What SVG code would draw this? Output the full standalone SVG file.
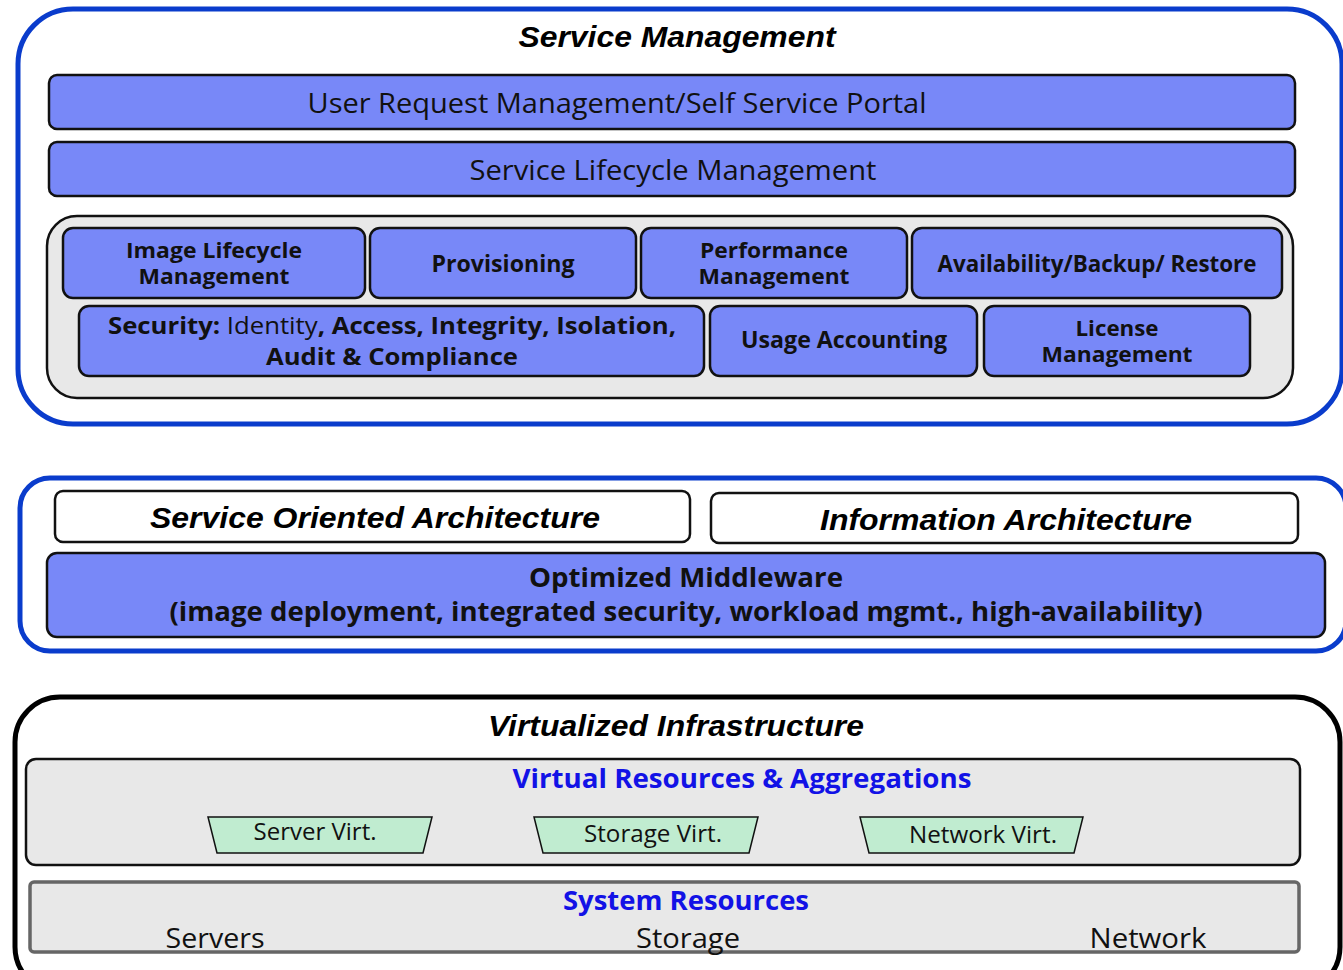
<svg xmlns="http://www.w3.org/2000/svg" width="1343" height="970" viewBox="0 0 1343 970">
<style>
.title{font-family:"Liberation Sans",Arial,sans-serif;font-weight:bold;font-style:italic;fill:#000;text-anchor:middle}
.hum{font-family:"Open Sans","Noto Sans",sans-serif;fill:#111;text-anchor:middle}
.b{font-weight:bold}
.bar{fill:#7888f8;stroke:#111;stroke-width:2.5}
.cont{fill:#e8e8e8;stroke:#111;stroke-width:2.5}
.outerB{fill:#fff;stroke:#0a3ccc;stroke-width:5}
.wbox{fill:#fff;stroke:#111;stroke-width:2.5}
.trap{fill:#c0ecd0;stroke:#111;stroke-width:1.5}
.blue{fill:#1212e6;font-weight:bold}
.two{font-size:21px}
</style>
<rect width="1343" height="970" fill="#fff"/>
<g id="service-management">
  <rect class="outerB" x="18" y="9" width="1324" height="415" rx="55"/>
  <text class="title" x="677" y="47" font-size="29" textLength="317" lengthAdjust="spacingAndGlyphs">Service Management</text>
</g>
<g id="user-request">
  <rect class="bar" x="49" y="75" width="1246" height="54" rx="8"/>
  <text class="hum" x="617" y="113" font-size="28" textLength="619" lengthAdjust="spacingAndGlyphs">User Request Management/Self Service Portal</text>
</g>
<g id="service-lifecycle">
  <rect class="bar" x="49" y="142" width="1246" height="54" rx="8"/>
  <text class="hum" x="673" y="180" font-size="28" textLength="407" lengthAdjust="spacingAndGlyphs">Service Lifecycle Management</text>
</g>
<g id="sm-container">
  <rect class="cont" x="47" y="216" width="1246" height="182" rx="30"/>
</g>
<g id="image-lifecycle">
  <rect class="bar" x="63" y="228" width="302" height="70" rx="10"/>
  <text class="hum b two" x="214" y="258" textLength="176" lengthAdjust="spacingAndGlyphs">Image Lifecycle</text>
  <text class="hum b two" x="214" y="284" textLength="151" lengthAdjust="spacingAndGlyphs">Management</text>
</g>
<g id="provisioning">
  <rect class="bar" x="370" y="228" width="266" height="70" rx="10"/>
  <text class="hum b" x="503" y="272" font-size="23" textLength="143" lengthAdjust="spacingAndGlyphs">Provisioning</text>
</g>
<g id="performance">
  <rect class="bar" x="641" y="228" width="266" height="70" rx="10"/>
  <text class="hum b two" x="774" y="258" textLength="148" lengthAdjust="spacingAndGlyphs">Performance</text>
  <text class="hum b two" x="774" y="284" textLength="151" lengthAdjust="spacingAndGlyphs">Management</text>
</g>
<g id="availability">
  <rect class="bar" x="912" y="228" width="370" height="70" rx="10"/>
  <text class="hum b" x="1097" y="272" font-size="23" textLength="319" lengthAdjust="spacingAndGlyphs">Availability/Backup/ Restore</text>
</g>
<g id="security">
  <rect class="bar" x="79" y="306" width="625" height="70" rx="10"/>
  <text class="hum b" x="392" y="334" font-size="23" textLength="568" lengthAdjust="spacingAndGlyphs">Security: <tspan font-weight="normal">Identity</tspan>, Access, Integrity, Isolation,</text>
  <text class="hum b" x="392" y="365" font-size="23" textLength="252" lengthAdjust="spacingAndGlyphs">Audit &amp; Compliance</text>
</g>
<g id="usage-accounting">
  <rect class="bar" x="710" y="306" width="267" height="70" rx="10"/>
  <text class="hum b" x="844" y="348" font-size="23" textLength="206" lengthAdjust="spacingAndGlyphs">Usage Accounting</text>
</g>
<g id="license">
  <rect class="bar" x="984" y="306" width="266" height="70" rx="10"/>
  <text class="hum b two" x="1117" y="336" textLength="83" lengthAdjust="spacingAndGlyphs">License</text>
  <text class="hum b two" x="1117" y="362" textLength="151" lengthAdjust="spacingAndGlyphs">Management</text>
</g>
<g id="middle-layer">
  <rect class="outerB" x="20" y="478" width="1326" height="173" rx="30"/>
</g>
<g id="soa">
  <rect class="wbox" x="55" y="491" width="635" height="51" rx="8"/>
  <text class="title" x="375" y="528" font-size="29" textLength="450" lengthAdjust="spacingAndGlyphs">Service Oriented Architecture</text>
</g>
<g id="info-arch">
  <rect class="wbox" x="711" y="493" width="587" height="50" rx="8"/>
  <text class="title" x="1006" y="530" font-size="29" textLength="372" lengthAdjust="spacingAndGlyphs">Information Architecture</text>
</g>
<g id="middleware">
  <rect class="bar" x="47" y="553" width="1278" height="84" rx="10"/>
  <text class="hum b" x="686" y="587" font-size="27" textLength="314" lengthAdjust="spacingAndGlyphs">Optimized Middleware</text>
  <text class="hum b" x="686" y="621" font-size="27" textLength="1033" lengthAdjust="spacingAndGlyphs">(image deployment, integrated security, workload mgmt., high-availability)</text>
</g>
<g id="virtualized-infra">
  <rect x="15" y="697" width="1325" height="295" rx="45" fill="#fff" stroke="#000" stroke-width="5"/>
  <text class="title" x="676" y="736" font-size="29" textLength="376" lengthAdjust="spacingAndGlyphs">Virtualized Infrastructure</text>
</g>
<g id="virtual-resources">
  <rect class="cont" x="26" y="759" width="1274" height="106" rx="10"/>
  <text class="hum blue" x="742" y="788" font-size="27" textLength="459" lengthAdjust="spacingAndGlyphs">Virtual Resources &amp; Aggregations</text>
</g>
<g id="server-virt">
  <polygon class="trap" points="208,817 432,817 423,853 217,853"/>
  <text class="hum" x="315" y="840" font-size="23" textLength="123" lengthAdjust="spacingAndGlyphs">Server Virt.</text>
</g>
<g id="storage-virt">
  <polygon class="trap" points="534,817 758,817 749,853 543,853"/>
  <text class="hum" x="653" y="842" font-size="23" textLength="138" lengthAdjust="spacingAndGlyphs">Storage Virt.</text>
</g>
<g id="network-virt">
  <polygon class="trap" points="860,817 1083,817 1074,853 869,853"/>
  <text class="hum" x="983" y="843" font-size="23" textLength="148" lengthAdjust="spacingAndGlyphs">Network Virt.</text>
</g>
<g id="system-resources">
  <rect x="30" y="882" width="1269" height="70" rx="4" fill="#e8e8e8" stroke="#666" stroke-width="3.5"/>
  <text class="hum blue" x="686" y="910" font-size="27" textLength="246" lengthAdjust="spacingAndGlyphs">System Resources</text>
  <text class="hum" x="215" y="948" font-size="28" textLength="99" lengthAdjust="spacingAndGlyphs">Servers</text>
  <text class="hum" x="688" y="948" font-size="28" textLength="104" lengthAdjust="spacingAndGlyphs">Storage</text>
  <text class="hum" x="1148" y="948" font-size="28" textLength="117" lengthAdjust="spacingAndGlyphs">Network</text>
</g>
<g id="connectors"></g>
</svg>
